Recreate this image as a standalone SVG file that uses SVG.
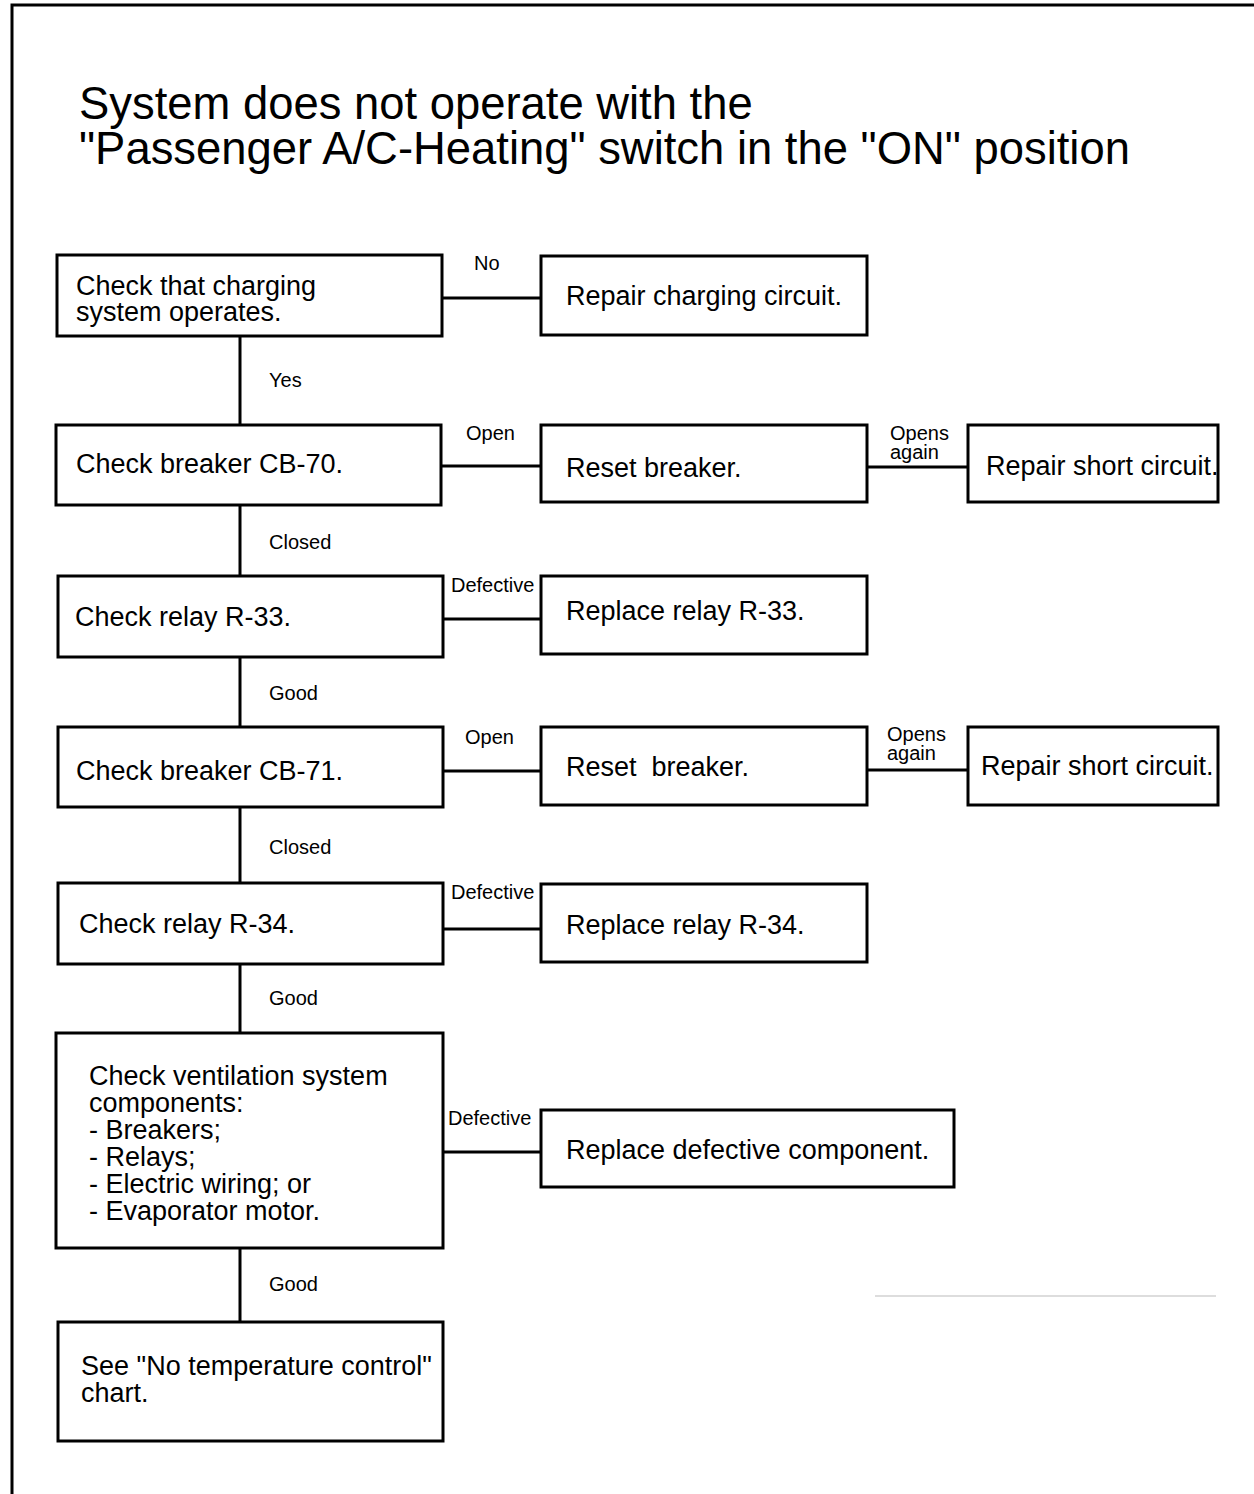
<svg xmlns="http://www.w3.org/2000/svg" width="1254" height="1494" viewBox="0 0 1254 1494">
<style>
.box{fill:#fff;stroke:#000;stroke-width:3}
.ln{stroke:#000;stroke-width:3;fill:none}
.t{font-family:"Liberation Sans",Arial,sans-serif;font-size:27px;fill:#000;white-space:pre}
.s{font-family:"Liberation Sans",Arial,sans-serif;font-size:20px;fill:#000}
.title{font-family:"Liberation Sans",Arial,sans-serif;font-size:45.4px;fill:#000}
</style>
<rect width="1254" height="1494" fill="#fff"/>
<path class="ln" d="M12,1494 V5 H1254"/>
<g id="title">
<text class="title" x="79" y="119">System does not operate with the</text>
<text class="title" x="79" y="164">"Passenger A/C-Heating" switch in the "ON" position</text>
</g>
<g id="connectors">
<path class="ln" d="M240,337 V424 M240,505 V575 M240,657 V727 M240,808 V883 M240,965 V1033 M240,1249 V1321"/>
<path class="ln" d="M443,298 H540 M441,466 H540 M867,467 H968 M443,619 H541 M444,771 H541 M868,770 H968 M444,929 H541 M444,1152 H541"/>
<text class="s" x="474" y="270">No</text>
<text class="s" x="269" y="387">Yes</text>
<text class="s" x="466" y="440">Open</text>
<text class="s" x="890" y="440">Opens</text>
<text class="s" x="890" y="459">again</text>
<text class="s" x="269" y="549">Closed</text>
<text class="s" x="451" y="592">Defective</text>
<text class="s" x="269" y="700">Good</text>
<text class="s" x="465" y="744">Open</text>
<text class="s" x="887" y="741">Opens</text>
<text class="s" x="887" y="760">again</text>
<text class="s" x="269" y="854">Closed</text>
<text class="s" x="451" y="899">Defective</text>
<text class="s" x="269" y="1005">Good</text>
<text class="s" x="448" y="1125">Defective</text>
<text class="s" x="269" y="1291">Good</text>
</g>
<g id="n1"><rect class="box" x="57" y="255" width="385" height="81"/>
<text class="t" x="76" y="295">Check that charging</text><text class="t" x="76" y="321">system operates.</text></g>
<g id="n2"><rect class="box" x="541" y="256" width="326" height="79"/>
<text class="t" x="566" y="305">Repair charging circuit.</text></g>
<g id="n3"><rect class="box" x="56" y="425" width="385" height="80"/>
<text class="t" x="76" y="473">Check breaker CB-70.</text></g>
<g id="n4"><rect class="box" x="541" y="425" width="326" height="77"/>
<text class="t" x="566" y="477">Reset breaker.</text></g>
<g id="n5"><rect class="box" x="968" y="425" width="250" height="77"/>
<text class="t" x="986" y="475">Repair short circuit.</text></g>
<g id="n6"><rect class="box" x="58" y="576" width="385" height="81"/>
<text class="t" x="75" y="626">Check relay R-33.</text></g>
<g id="n7"><rect class="box" x="541" y="576" width="326" height="78"/>
<text class="t" x="566" y="620">Replace relay R-33.</text></g>
<g id="n8"><rect class="box" x="58" y="727" width="385" height="80"/>
<text class="t" x="76" y="780">Check breaker CB-71.</text></g>
<g id="n9"><rect class="box" x="541" y="727" width="326" height="78"/>
<text class="t" x="566" y="776">Reset  breaker.</text></g>
<g id="n10"><rect class="box" x="968" y="727" width="250" height="78"/>
<text class="t" x="981" y="775">Repair short circuit.</text></g>
<g id="n11"><rect class="box" x="58" y="883" width="385" height="81"/>
<text class="t" x="79" y="933">Check relay R-34.</text></g>
<g id="n12"><rect class="box" x="541" y="884" width="326" height="78"/>
<text class="t" x="566" y="934">Replace relay R-34.</text></g>
<g id="n13"><rect class="box" x="56" y="1033" width="387" height="215"/>
<text class="t" x="89" y="1085">Check ventilation system</text>
<text class="t" x="89" y="1112">components:</text>
<text class="t" x="89" y="1139">- Breakers;</text>
<text class="t" x="89" y="1166">- Relays;</text>
<text class="t" x="89" y="1193">- Electric wiring; or</text>
<text class="t" x="89" y="1220">- Evaporator motor.</text></g>
<g id="n14"><rect class="box" x="541" y="1110" width="413" height="77"/>
<text class="t" x="566" y="1159">Replace defective component.</text></g>
<g id="n15"><rect class="box" x="58" y="1322" width="385" height="119"/>
<text class="t" x="81" y="1375">See "No temperature control"</text>
<text class="t" x="81" y="1402">chart.</text></g>
<line x1="875" y1="1296" x2="1216" y2="1296" stroke="#bbb" stroke-width="1"/>
</svg>
